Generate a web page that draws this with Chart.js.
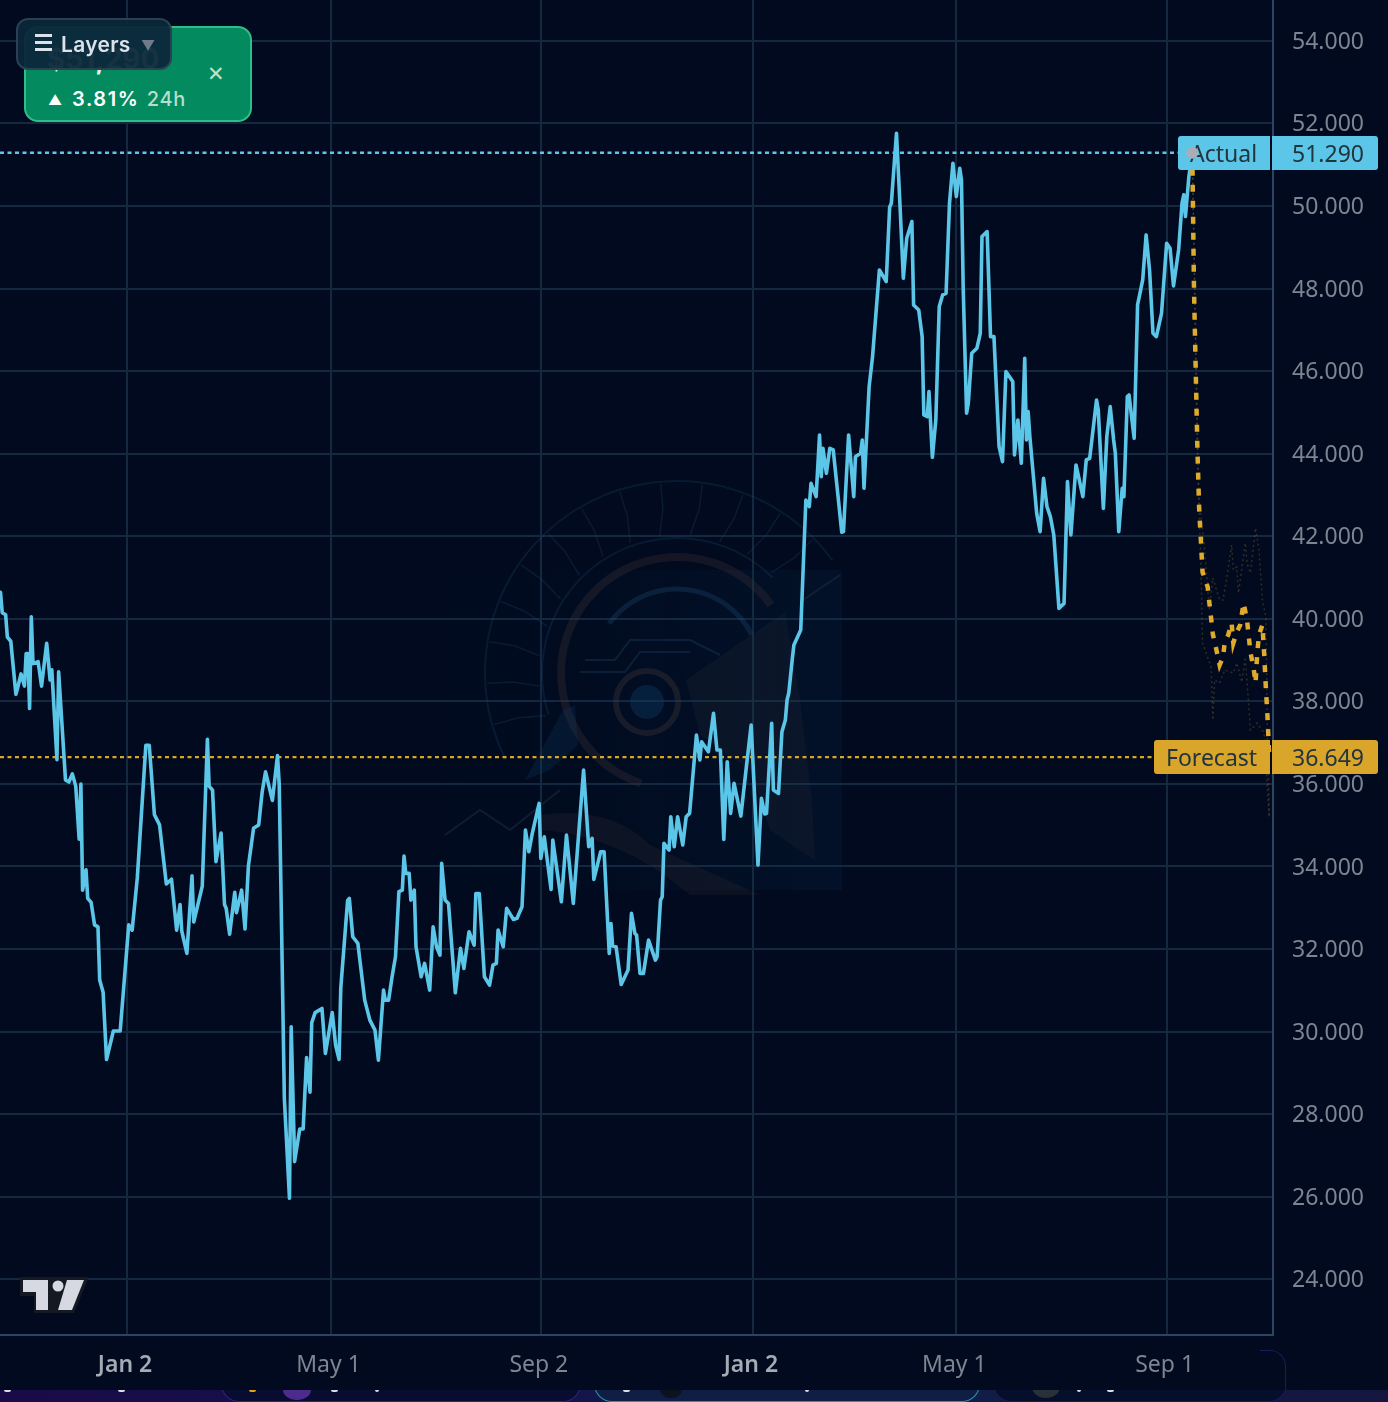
<!DOCTYPE html>
<html>
<head>
<meta charset="utf-8">
<title>Actual vs Forecast</title>
<script src="https://cdn.jsdelivr.net/npm/chart.js@4/dist/chart.umd.min.js"></script>
<style>
  html,body { margin:0; padding:0; background:#010a1e; }
  #wrap { position:relative; width:1388px; height:1402px; overflow:hidden; background:#010a1e; font-family:Inter,sans-serif; }
  #chart { position:absolute; left:0; top:0; filter:blur(0.45px); }
  .card { position:absolute; left:24px; top:26px; width:224px; height:92px; border:2px solid #2fbd8a; border-radius:14px; background:#038a5e; color:#fff; }
  .card .price { position:absolute; left:21px; top:14px; font-size:28px; font-weight:700; color:#dff3ea; white-space:nowrap; }
  .card .up { position:absolute; left:22px; top:63px; font-size:14px; }
  .card .chg { position:absolute; left:46px; top:59px; font-size:20px; font-weight:600; letter-spacing:1.6px; white-space:nowrap; }
  .card .chg span { margin-left:1px; font-weight:500; letter-spacing:.8px; color:#b3dfcd; }
  .card .close { position:absolute; left:181px; top:33px; font-size:21px; color:#b8e3d2; }
  .layers { position:absolute; left:16px; top:18px; width:152px; height:48px; border:2px solid #2c4054; border-radius:12px; background:rgba(11,39,58,.95); color:#dbe2ea; font-size:21px; line-height:49px; white-space:nowrap; }
  .layers u { position:absolute; left:17px; top:14px; width:17px; height:3px; background:#dbe2ea; text-decoration:none; box-shadow:0 7px 0 #dbe2ea,0 14px 0 #dbe2ea; }
  .layers b { position:absolute; left:43px; top:0; font-weight:600; letter-spacing:.3px; }
  .layers i { position:absolute; left:123px; top:1px; font-style:normal; color:#6f7b88; font-size:14px; }
  .tv { position:absolute; left:20px; top:1276px; }
  .strip { position:absolute; left:0; top:1390px; width:1388px; height:12px; overflow:hidden; background:linear-gradient(90deg,#1a0b48 0%,#15104a 30%,#101f48 62%,#14163f 100%); }
  .pill { position:absolute; top:-30px; height:42px; border-radius:0 0 18px 18px; background:#080c30; box-sizing:border-box; }
  .speck { position:absolute; top:0; height:2px; width:7px; background:#d8dce6; border-radius:0 0 3px 3px; }
  .blob { position:absolute; border-radius:50%; }
  .corner { position:absolute; left:1180px; top:1350px; width:106px; height:40px; border:1.5px solid #1b1b58; border-left:0; border-bottom:0; border-radius:0 16px 0 0; box-sizing:border-box; clip-path:inset(0 0 0 80px); }
</style>
</head>
<body>
<div id="wrap">
  <canvas id="chart" width="1388" height="1390"></canvas>
  <div class="card">
    <div class="price">$51,290</div>
    <div class="up">▲</div>
    <div class="chg">3.81%<span> 24h</span></div>
    <div class="close">✕</div>
  </div>
  <div class="layers"><u></u><b>Layers</b><i>▼</i></div>
  <svg class="tv" width="70" height="38" viewBox="0 0 70 38">
    <path d="M0 1 H69 L54 37 H14 V20 H0 Z" fill="#141922"/>
    <path d="M3 4 H28 V34 H16 V16 H3 Z" fill="#d6d8e2"/>
    <circle cx="38" cy="10" r="5.5" fill="#d6d8e2"/>
    <path d="M47 4 H64 L52 34 H38 Z" fill="#d6d8e2"/>
  </svg>
  <div class="strip">
    <div class="pill" style="left:221px;width:360px;border:1.5px solid #3a1f7a;border-top:0"></div>
    <div class="pill" style="left:594px;width:386px;border:1.5px solid #2f8fb0;border-top:0;background:#0f1e42"></div>
    <div class="pill" style="left:993px;width:294px;border:1.5px solid #1b1b58;border-top:0;background:#050f2c"></div>
    <span class="speck" style="left:4px"></span>
    <span class="speck" style="left:118px"></span>
    <span class="speck" style="left:249px;background:#e8a317"></span>
    <span class="blob" style="left:283px;top:-10px;width:28px;height:20px;background:#4b2c8c"></span>
    <span class="speck" style="left:331px"></span>
    <span class="speck" style="left:375px;width:4px"></span>
    <span class="speck" style="left:623px"></span>
    <span class="blob" style="left:660px;top:-8px;width:22px;height:16px;background:#0c1220"></span>
    <span class="speck" style="left:805px;width:4px"></span>
    <span class="blob" style="left:1032px;top:-14px;width:28px;height:22px;background:#2a3038"></span>
    <span class="speck" style="left:1077px;width:4px"></span>
    <span class="speck" style="left:1107px"></span>
  </div>
  <div class="corner"></div>
</div>
<script>
// price history, one vertex per turning point, x = days since first Jan 2
const actualDays = [-74,-73,-71,-70,-68,-65,-64,-62,-60,-59,-58,-57,-56,-55,-52,-50,-47,-45,-44,-41,-40,-36,-34,-32,-30,-28,-27,-26,-24,-23,-21,-19,-17,-16,-14,-12,-8,-4,1,3,6,11,13,16,19,23,26,29,31,32,35,38,39,44,47,48,50,52,55,57,58,60,63,64,67,69,71,74,77,79,81,85,88,89,92,95,96,98,101,103,105,107,108,110,114,116,120,122,124,125,129,130,132,135,139,142,145,147,150,151,153,155,157,159,161,162,163,165,166,168,169,172,174,177,179,181,183,184,186,188,192,195,197,200,203,204,206,209,212,214,216,217,220,222,226,228,231,233,235,237,241,242,244,248,249,254,257,261,267,270,272,273,277,279,282,283,284,286,289,293,295,297,298,300,302,305,309,310,312,313,314,317,318,320,322,325,327,329,333,335,336,340,343,345,347,349,351,353,355,359,362,365,369,371,373,374,377,378,381,383,385,386,387,389,390,394,395,397,399,400,403,405,406,407,409,411,413,418,419,422,425,426,429,430,431,434,436,440,444,446,447,450,452,454,456,459,460,463,465,466,468,469,471,473,475,477,479,481,483,485,487,488,489,491,492,494,497,499,500,503,505,507,510,512,514,518,519,521,523,525,526,527,528,532,534,536,538,540,542,545,548,550,552,555,559,561,563,567,568,571,573,575,577,578,580,582,583,585,586,589,591,594,596,598,600,602,605,608,610,612,615,617,618,619,621,623];
const actualValues = [40642,40148,40099,39555,39456,38171,38319,38665,38369,39160,39160,37825,40049,38912,38962,38369,39407,38517,38764,36589,38715,36095,36045,36243,35946,34661,35996,33425,33920,33228,33129,32585,32536,31251,30954,29323,30015,30015,32585,32457,33722,36935,36935,35255,35007,33574,33692,32457,33080,32437,31893,33772,32654,33524,37083,35946,35848,34118,34810,33080,32981,32358,33376,32882,33426,32486,34019,34928,35007,35798,36292,35600,36688,35996,28384,25961,30114,26851,27642,27642,29372,28532,30213,30460,30559,29471,30460,29669,29323,31053,33178,33226,32297,32136,30763,30279,30036,29309,31005,30763,30763,31328,31813,33388,33428,34252,33832,33832,33186,33428,32055,31328,31651,31005,32540,32055,31853,34074,33186,33105,30940,32015,31530,32419,32095,33347,33347,31328,31126,31611,31651,32459,32055,32984,32717,32742,33024,34882,34357,34801,35528,34195,34720,33444,34640,33145,34761,33105,36336,34478,34680,33687,34357,34357,31893,32620,32071,32055,31142,31490,32863,32378,32338,31409,31409,32216,31732,31813,33186,33267,34559,34397,35205,34478,35205,34519,35205,35286,37184,36578,37022,36780,37709,36820,36820,34656,36538,35286,36013,35221,36336,37426,34034,35649,35270,35286,37467,35851,35770,37265,37547,38032,38202,39002,39365,39729,40771,42878,42717,43282,42959,44453,43444,44130,43524,44130,44090,42095,42111,44453,42959,43928,44009,44332,43161,45624,46351,48451,48169,49970,50067,51763,50067,48249,49219,49622,47603,47482,46836,44938,44898,45503,43912,44817,47563,47846,47886,50067,51036,50228,50915,50632,48047,44978,45221,46432,46553,46917,49259,49380,46836,46836,44171,43807,45988,45746,43969,44817,43767,46311,44332,45019,44413,42555,42111,43403,42717,42474,42030,40253,40374,43322,42030,43726,42959,43848,43888,45301,45059,42676,44413,45140,44332,44009,42111,43161,42959,45382,45422,44373,47603,48209,49299,48451,46917,46836,47401,49098,48976,48064,48936,50067,50269,49744,50713,51290];

const forecastDays = [623,624,625,626,627,628,629,632,633,634,635,637,639,641,642,644,646,647,649,651,653,655,656,657,659,660,661,662,664,665,666,667,668];
const forecastValues = [51290,47967,46029,44090,42685,41909,41134,40770,40383,40019,39632,39268,38880,39075,39438,39608,39898,39413,39680,39850,40383,39971,39583,39195,38760,38445,39172,39608,39850,39172,38350,37620,36649];

const upperDays = [623,626,627,630,633,635,639,641,643,646,647,649,650,654,655,657,660,662,664,666,667,668];
const upperValues = [51290,44500,42879,41788,40213,40988,40455,40455,40940,41788,41183,41255,40625,41836,41352,41110,42200,41667,40455,40044,37063,35197];
const lowerDays = [623,626,628,629,634,635,636,639,642,647,649,652,654,657,661,665,667,668];
const lowerValues = [51290,43800,41400,39414,38832,37548,38517,38444,38760,38687,38929,38468,39074,37306,37475,37233,35852,35197];

const actualPrice = 51290;
const forecastPrice = 36649;
const yTicks = [54000,52000,50000,48000,46000,44000,42000,40000,38000,36000,34000,32000,30000,28000,26000,24000];
const xTickDays = [0,119,242,366,485,608];
const xTickLabels = ['Jan 2','May 1','Sep 2','Jan 2','May 1','Sep 1'];

const xMin = -74.3, xMax = 670.2, yMin = 22650, yMax = 54990;
const CYAN = '#5cc6e8', AMBER = '#e0aa2b';
const UI_FONT = '"Noto Sans", sans-serif';

function toPoints(xs, ys) { return xs.map((x,i) => ({x:x, y:ys[i]})); }
function rr(ctx,x,y,w,h,r) { ctx.beginPath(); ctx.roundRect(x,y,w,h,r); }
function line(c, pts) { c.beginPath(); pts.forEach((p,i) => i ? c.lineTo(p[0],p[1]) : c.moveTo(p[0],p[1])); c.stroke(); }

// faint helmet logo behind the lines
const watermark = {
  id:'watermark',
  beforeDatasetsDraw(chart) {
    const c = chart.ctx, cx = 647, cy = 702;
    c.save();
    const g = c.createLinearGradient(430,0,842,0);
    g.addColorStop(0,'rgba(12,45,80,.04)'); g.addColorStop(.4,'rgba(12,45,80,.06)'); g.addColorStop(.9,'rgba(12,50,85,.18)'); g.addColorStop(1,'rgba(12,50,85,.18)');
    c.fillStyle = g; c.fillRect(440,570,402,320);
    // outer segmented crest
    c.strokeStyle = 'rgba(30,70,105,.28)'; c.lineWidth = 2;
    c.beginPath(); c.arc(677,673,192,Math.PI*.85,Math.PI*1.8); c.stroke();
    c.beginPath(); c.arc(677,673,135,Math.PI*.9,Math.PI*1.75); c.stroke();
    for (let a = .9; a < 1.8; a += .07) {
      const t = Math.PI*a;
      c.strokeStyle = 'rgba(35,75,110,.26)'; c.lineWidth = 1.6;
      line(c, [[677+138*Math.cos(t),673+138*Math.sin(t)],[677+165*Math.cos(t+.04),673+165*Math.sin(t+.04)],[677+190*Math.cos(t+.04),673+190*Math.sin(t+.04)]]);
    }
    // inner rings
    c.strokeStyle = 'rgba(65,52,55,.3)'; c.lineWidth = 8;
    c.beginPath(); c.arc(677,673,116,Math.PI*.6,Math.PI*1.8); c.stroke();
    c.strokeStyle = 'rgba(30,75,115,.32)'; c.lineWidth = 5;
    c.beginPath(); c.arc(677,673,84,Math.PI*1.2,Math.PI*1.85); c.stroke();
    c.strokeStyle = 'rgba(35,70,100,.35)'; c.lineWidth = 2;
    line(c, [[585,660],[615,660],[630,640],[690,640],[720,655]]);
    line(c, [[580,672],[625,672],[640,652],[690,652]]);
    c.strokeStyle = 'rgba(60,52,55,.4)'; c.lineWidth = 6;
    c.beginPath(); c.arc(cx,cy,31,0,Math.PI*2); c.stroke();
    c.fillStyle = 'rgba(15,60,100,.4)';
    c.beginPath(); c.arc(cx,cy,17,0,Math.PI*2); c.fill();
    // cheek plate and lower curve
    c.fillStyle = 'rgba(60,55,65,.16)';
    c.beginPath(); c.moveTo(686,680); c.lineTo(785,612); c.lineTo(800,700); c.lineTo(812,800); c.lineTo(815,860); c.lineTo(770,830); c.lineTo(750,770); c.lineTo(700,735); c.closePath(); c.fill();
    c.fillStyle = 'rgba(60,50,50,.22)';
    c.beginPath(); c.moveTo(540,815); c.quadraticCurveTo(610,805,650,845); c.lineTo(760,895); c.lineTo(690,895); c.quadraticCurveTo(620,835,540,830); c.closePath(); c.fill();
    c.fillStyle = 'rgba(15,60,100,.25)';
    c.beginPath(); c.moveTo(563,710); c.lineTo(575,705); c.lineTo(578,745); c.lineTo(550,770); c.lineTo(525,780); c.closePath(); c.fill();
    c.strokeStyle = 'rgba(50,60,80,.35)'; c.lineWidth = 2;
    line(c, [[445,835],[480,810],[510,830],[560,790]]);
    line(c, [[803,600],[840,575]]);
    c.restore();
  }
};

// price tags sit above the lines, the end marker above the tags
function drawTag(c, y, x0, label, value, fill) {
  c.fillStyle = fill;
  rr(c,x0,y-17,1270-x0,34,[3,0,0,3]); c.fill();
  rr(c,1272,y-17,106,34,[0,3,3,0]); c.fill();
  c.fillStyle = '#22343d';
  c.font = '23px ' + UI_FONT;
  c.textBaseline = 'middle'; c.textAlign = 'left';
  c.fillText(label, x0+12, y+2);
  c.fillText(value, 1292, y+2);
}
const priceTags = {
  id:'priceTags',
  beforeDatasetDraw(chart, args) {
    if (args.meta.label !== 'End') return;
    const c = chart.ctx, y = chart.scales.y;
    c.save();
    drawTag(c, Math.round(y.getPixelForValue(actualPrice)), 1178, 'Actual', '51.290', CYAN);
    drawTag(c, Math.round(y.getPixelForValue(forecastPrice)), 1154, 'Forecast', '36.649', '#d9a62b');
    c.restore();
  }
};

new Chart(document.getElementById('chart'), {
  type:'line',
  data:{ datasets:[
    { label:'End', data:toPoints([623],[actualPrice]), pointRadius:6, pointBackgroundColor:'#a9adb8', pointBorderWidth:0, showLine:false, order:0 },
    { label:'Forecast', data:toPoints(forecastDays,forecastValues), borderColor:AMBER, borderWidth:4.5, borderDash:[7,9], pointRadius:0, tension:0, order:1 },
    { label:'Actual', data:toPoints(actualDays,actualValues), borderColor:CYAN, borderWidth:3.6, pointRadius:0, tension:0, borderJoinStyle:'round', borderCapStyle:'round', order:2 },
    { label:'Upper', data:toPoints(upperDays,upperValues), borderColor:'rgba(150,120,50,.32)', borderWidth:1.5, borderDash:[2,3], pointRadius:0, order:3 },
    { label:'Lower', data:toPoints(lowerDays,lowerValues), borderColor:'rgba(150,120,50,.32)', borderWidth:1.5, borderDash:[2,3], pointRadius:0, order:3 },
    { label:'Actual price', data:toPoints([xMin,623],[actualPrice,actualPrice]), borderColor:CYAN, borderWidth:2.4, borderDash:[4,3.5], pointRadius:0, order:4 },
    { label:'Forecast price', data:toPoints([xMin,668],[forecastPrice,forecastPrice]), borderColor:'#d8a42a', borderWidth:2.4, borderDash:[4,3.5], pointRadius:0, order:4 }
  ]},
  options:{
    responsive:false, animation:false, devicePixelRatio:1,
    layout:{ padding:0, autoPadding:false },
    plugins:{ legend:{display:false}, tooltip:{enabled:false} },
    scales:{
      x:{ type:'linear', min:xMin, max:xMax,
        afterBuildTicks:s => { s.ticks = xTickDays.map(v => ({value:v})); },
        afterFit:s => { s.height = 55; s.paddingLeft = 0; s.paddingRight = 0; },
        grid:{ color:'#14283f', lineWidth:2, drawTicks:false },
        border:{ color:'#2c4460', width:2 },
        ticks:{ autoSkip:false, maxRotation:0, padding:17, labelOffset:-2, color:c => (c.index===0||c.index===3) ? '#a3abb5' : '#7c8591',
          font:c => ({ family:UI_FONT, size:23, weight:(c.index===0||c.index===3)?'600':'400' }),
          callback:(v,i) => xTickLabels[i] }
      },
      y:{ position:'right', min:yMin, max:yMax,
        afterBuildTicks:s => { s.ticks = yTicks.map(v => ({value:v})); },
        afterFit:s => { s.width = 115; s.paddingTop = 0; s.paddingBottom = 0; },
        grid:{ color:'#14283f', lineWidth:2, drawTicks:false },
        border:{ color:'#2c4460', width:2 },
        ticks:{ autoSkip:false, padding:19, labelOffset:1.5, color:'#7c8591', font:{family:UI_FONT,size:23},
          callback:v => (v/1000).toFixed(3) }
      }
    }
  },
  plugins:[watermark, priceTags]
});
</script>
</body>
</html>
